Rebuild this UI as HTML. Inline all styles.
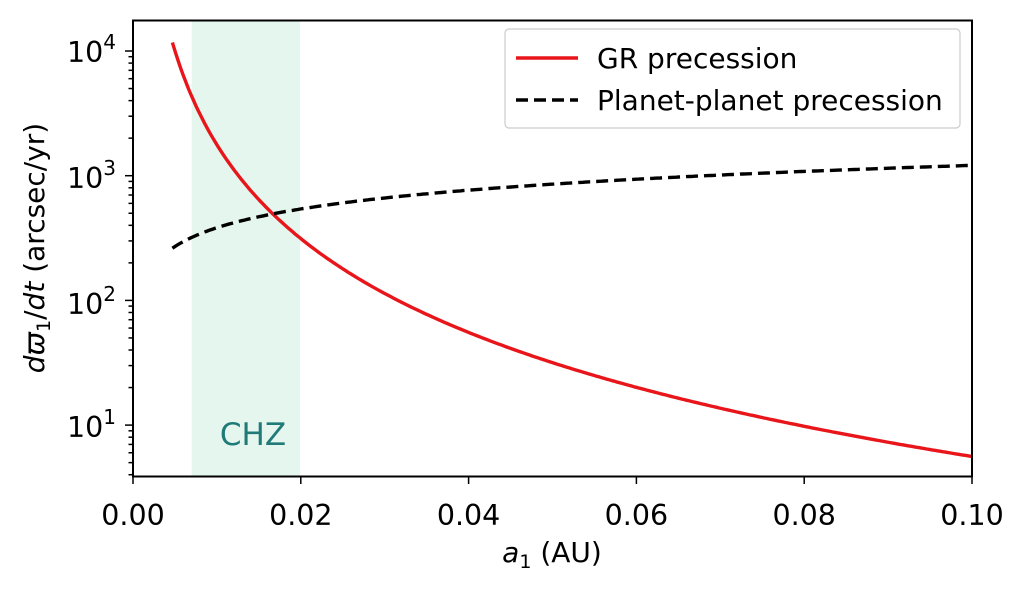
<!DOCTYPE html>
<html><head><meta charset="utf-8"><style>
body{margin:0;background:#fff}
svg text{font-family:"DejaVu Sans","Liberation Sans",sans-serif;fill:#000}
</style></head><body>
<svg id="s" width="1024" height="586" xmlns="http://www.w3.org/2000/svg">
<rect x="191.7" y="20.5" width="108.3" height="456" fill="#e4f6ee"/>
<path id="gr" fill="none" stroke="#e8161b" stroke-width="3.4"/>
<path id="pp" fill="none" stroke="#000" stroke-width="3.4" stroke-dasharray="12,6"/>
<text x="253" y="445" font-size="31" text-anchor="middle" style="fill:#1f7a78">CHZ</text>
<rect x="133" y="20.5" width="839" height="456" fill="none" stroke="#000" stroke-width="2"/>
<g id="ticks" stroke="#000" stroke-width="1.5"></g>
<g font-size="28.5" text-anchor="middle">
<text x="133" y="525">0.00</text><text x="300.8" y="525">0.02</text><text x="468.6" y="525">0.04</text><text x="636.4" y="525">0.06</text><text x="804.2" y="525">0.08</text><text x="972" y="525">0.10</text>
</g>
<g font-size="28.5" text-anchor="end">
<text x="116" y="62">10<tspan dy="-13" font-size="20">4</tspan></text>
<text x="116" y="188">10<tspan dy="-13" font-size="20">3</tspan></text>
<text x="116" y="314">10<tspan dy="-13" font-size="20">2</tspan></text>
<text x="116" y="437">10<tspan dy="-13" font-size="20">1</tspan></text>
</g>
<text x="552" y="562" font-size="28" text-anchor="middle"><tspan font-style="italic">a</tspan><tspan font-size="19" dy="6">1</tspan><tspan dy="-6"> (AU)</tspan></text>
<text transform="translate(44,248) rotate(-90)" font-size="28" text-anchor="middle"><tspan font-style="italic">d</tspan><tspan font-style="italic">ϖ</tspan><tspan font-size="19" dy="6">1</tspan><tspan dy="-6">/</tspan><tspan font-style="italic">dt</tspan> (arcsec/yr)</text>
<rect x="505" y="29" width="455" height="99" rx="4" fill="#fff" fill-opacity="0.85" stroke="#ccc" stroke-width="1.2"/>
<line x1="516" y1="58" x2="578" y2="58" stroke="#e8161b" stroke-width="3.4"/>
<line x1="516" y1="100" x2="578" y2="100" stroke="#000" stroke-width="3.4" stroke-dasharray="12,6"/>
<text x="597" y="68" font-size="28">GR precession</text>
<text x="597" y="110" font-size="28">Planet-planet precession</text>
</svg>
<script>
var X=a=>133+a/0.1*839, Y=v=>51-(Math.log10(v)-4)*124.7;
var g="",p="";
for(var i=0;i<=300;i++){var a=0.0047+(0.1-0.0047)*i/300;
g+=(i?"L":"M")+X(a).toFixed(1)+","+Y(5.6*Math.pow(a/0.1,-2.5)).toFixed(1);
p+=(i?"L":"M")+X(a).toFixed(1)+","+Y(1210*Math.pow(a/0.1,0.5)).toFixed(1);}
document.getElementById("gr").setAttribute("d",g);
document.getElementById("pp").setAttribute("d",p);
var t="";
for(var k=0;k<=5;k++){var x=133+k*167.8;t+='<line x1="'+x+'" y1="476.5" x2="'+x+'" y2="484"/>';}
for(var d=0;d<=4;d++)for(var m=1;m<10;m++){var v=m*Math.pow(10,d),y=Y(v);if(y<20||y>477)continue;
var L=m==1?8:4.5;t+='<line x1="'+(133-L)+'" y1="'+y+'" x2="133" y2="'+y+'"/>';}
document.getElementById("ticks").innerHTML=t;
</script>
</body></html>
